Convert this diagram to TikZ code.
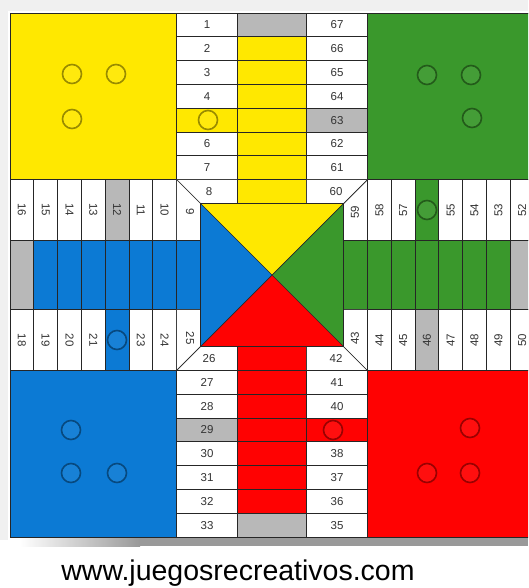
\documentclass[tikz,border=0pt]{standalone}
\usepackage{fontspec}
\setmainfont{Liberation Sans}

\definecolor{amarillo}{RGB}{255,232,0}
\definecolor{verde}{RGB}{58,152,44}
\definecolor{azul}{RGB}{12,122,212}
\definecolor{rojo}{RGB}{255,2,2}
\definecolor{seguro}{RGB}{184,184,184}

% board measures (pt, y runs downwards)
\def\cs{23.8}
\def\Xa{10}   \def\Xb{176.6} \def\Xc{237.4} \def\Xd{306.6} \def\Xe{367.4} \def\Xf{534.0}
\def\Ya{13}   \def\Yb{179.6} \def\Yc{240.4} \def\Yd{309.6} \def\Ye{370.4} \def\Yf{537.0}
\def\Ia{200.4} \def\Ib{343.6} \def\Ja{203.4} \def\Jb{346.6}
\def\Ox{272}  \def\Oy{275}

\begin{document}
\begin{tikzpicture}[x=1pt, y=-1pt,
    celda/.style={draw=black!85, line width=0.7pt},
    num/.style={font=\fontsize{11.5}{12}\selectfont, text=black!80, inner sep=0pt},
    ficha/.style={circle, minimum size=19pt, inner sep=0pt, fill=#1!95!white, draw=#1!60!black, line width=1.6pt},
    web/.style={font=\fontsize{28.5}{29}\selectfont, text=black, anchor=base}
]
    \useasboundingbox (0,0) rectangle (528,588);
    \clip (0,0) rectangle (528,588);

    % Background and shadow
    \fill[black!6] (0,0) rectangle (528,11);
    \fill[black!6] (0,0) rectangle (8,540);
    \shade[left color=white, right color=black!40] (20,537) rectangle (140,546);
    \fill[black!40] (140,537) rectangle (528,546);

    % Home squares
    \fill[amarillo] (\Xa,\Ya) rectangle (\Xb,\Yb);
    \fill[verde] (\Xe,\Ya) rectangle (\Xf,\Yb);
    \fill[azul] (\Xa,\Ye) rectangle (\Xb,\Yf);
    \fill[rojo] (\Xe,\Ye) rectangle (\Xf,\Yf);

    % Top arm (yellow)
    \foreach \i in {1,...,7} {
        \pgfmathsetmacro\ta{\Ya+(\i-1)*\cs}
        \pgfmathsetmacro\tb{\Ya+\i*\cs}
        \pgfmathsetmacro\tm{\Ya+(\i-0.5)*\cs}
        \pgfmathtruncatemacro\nr{68-\i}
        \ifnum\i=5
            \draw[celda, fill=amarillo] (\Xb,\ta) rectangle (\Xc,\tb);
            \draw[celda, fill=seguro] (\Xd,\ta) rectangle (\Xe,\tb);
        \else
            \draw[celda, fill=white] (\Xb,\ta) rectangle (\Xc,\tb);
            \draw[celda, fill=white] (\Xd,\ta) rectangle (\Xe,\tb);
            \node[num] (n\i) at ({(\Xb+\Xc)/2},\tm) {\i};
        \fi
        \node[num] (n\nr) at ({(\Xd+\Xe)/2},\tm) {\nr};
        \ifnum\i=1
            \draw[celda, fill=seguro] (\Xc,\ta) rectangle (\Xd,\tb);
        \else
            \draw[celda, fill=amarillo] (\Xc,\ta) rectangle (\Xd,\tb);
        \fi
    }

    % Bottom arm (red)
    \foreach \k in {1,...,7} {
        \pgfmathsetmacro\ta{\Yf-\k*\cs}
        \pgfmathsetmacro\tb{\Yf-(\k-1)*\cs}
        \pgfmathsetmacro\tm{\Yf-(\k-0.5)*\cs}
        \pgfmathtruncatemacro\nl{34-\k}
        \pgfmathtruncatemacro\nr{34+\k}
        \ifnum\k=5
            \draw[celda, fill=seguro] (\Xb,\ta) rectangle (\Xc,\tb);
            \draw[celda, fill=rojo] (\Xd,\ta) rectangle (\Xe,\tb);
        \else
            \draw[celda, fill=white] (\Xb,\ta) rectangle (\Xc,\tb);
            \draw[celda, fill=white] (\Xd,\ta) rectangle (\Xe,\tb);
            \node[num] (n\nr) at ({(\Xd+\Xe)/2},\tm) {\nr};
        \fi
        \node[num] (n\nl) at ({(\Xb+\Xc)/2},\tm) {\nl};
        \ifnum\k=1
            \draw[celda, fill=seguro] (\Xc,\ta) rectangle (\Xd,\tb);
        \else
            \draw[celda, fill=rojo] (\Xc,\ta) rectangle (\Xd,\tb);
        \fi
    }

    % Left arm (blue)
    \foreach \j in {1,...,7} {
        \pgfmathsetmacro\ta{\Xa+(\j-1)*\cs}
        \pgfmathsetmacro\tb{\Xa+\j*\cs}
        \pgfmathsetmacro\tm{\Xa+(\j-0.5)*\cs}
        \pgfmathtruncatemacro\nt{17-\j}
        \pgfmathtruncatemacro\nb{17+\j}
        \ifnum\j=5
            \draw[celda, fill=seguro] (\ta,\Yb) rectangle (\tb,\Yc);
            \draw[celda, fill=azul] (\ta,\Yd) rectangle (\tb,\Ye);
        \else
            \draw[celda, fill=white] (\ta,\Yb) rectangle (\tb,\Yc);
            \draw[celda, fill=white] (\ta,\Yd) rectangle (\tb,\Ye);
            \node[num, rotate=-90] (n\nb) at (\tm,{(\Yd+\Ye)/2}) {\nb};
        \fi
        \node[num, rotate=-90] (n\nt) at (\tm,{(\Yb+\Yc)/2}) {\nt};
        \ifnum\j=1
            \draw[celda, fill=seguro] (\ta,\Yc) rectangle (\tb,\Yd);
        \else
            \draw[celda, fill=azul] (\ta,\Yc) rectangle (\tb,\Yd);
        \fi
    }

    % Right arm (green)
    \foreach \j in {1,...,7} {
        \pgfmathsetmacro\ta{\Xf-\j*\cs}
        \pgfmathsetmacro\tb{\Xf-(\j-1)*\cs}
        \pgfmathsetmacro\tm{\Xf-(\j-0.5)*\cs}
        \pgfmathtruncatemacro\nt{51+\j}
        \pgfmathtruncatemacro\nb{51-\j}
        \ifnum\j=5
            \draw[celda, fill=verde] (\ta,\Yb) rectangle (\tb,\Yc);
            \draw[celda, fill=seguro] (\ta,\Yd) rectangle (\tb,\Ye);
        \else
            \draw[celda, fill=white] (\ta,\Yb) rectangle (\tb,\Yc);
            \draw[celda, fill=white] (\ta,\Yd) rectangle (\tb,\Ye);
            \node[num, rotate=90] (n\nt) at (\tm,{(\Yb+\Yc)/2}) {\nt};
        \fi
        \node[num, rotate=90] (n\nb) at (\tm,{(\Yd+\Ye)/2}) {\nb};
        \ifnum\j=1
            \draw[celda, fill=seguro] (\ta,\Yc) rectangle (\tb,\Yd);
        \else
            \draw[celda, fill=verde] (\ta,\Yc) rectangle (\tb,\Yd);
        \fi
    }

    % Centre triangles
    \fill[amarillo] (\Ia,\Ja) -- (\Ib,\Ja) -- (\Ox,\Oy) -- cycle;
    \fill[verde] (\Ib,\Ja) -- (\Ib,\Jb) -- (\Ox,\Oy) -- cycle;
    \fill[rojo] (\Ib,\Jb) -- (\Ia,\Jb) -- (\Ox,\Oy) -- cycle;
    \fill[azul] (\Ia,\Jb) -- (\Ia,\Ja) -- (\Ox,\Oy) -- cycle;

    % Lanes through the band
    \draw[celda, fill=amarillo] (\Xc,\Yb) rectangle (\Xd,\Ja);
    \draw[celda, fill=rojo] (\Xc,\Jb) rectangle (\Xd,\Ye);
    \draw[celda, fill=azul] (\Xb,\Yc) rectangle (\Ia,\Yd);
    \draw[celda, fill=verde] (\Ib,\Yc) rectangle (\Xe,\Yd);

    % Corner cells of the band
    \draw[celda, fill=white] (\Xb,\Yb) -- (\Xc,\Yb) -- (\Xc,\Ja) -- (\Ia,\Ja) -- cycle;
    \draw[celda, fill=white] (\Xb,\Yb) -- (\Ia,\Ja) -- (\Ia,\Yc) -- (\Xb,\Yc) -- cycle;
    \draw[celda, fill=white] (\Xb,\Ye) -- (\Ia,\Jb) -- (\Ia,\Yd) -- (\Xb,\Yd) -- cycle;
    \draw[celda, fill=white] (\Xb,\Ye) -- (\Xc,\Ye) -- (\Xc,\Jb) -- (\Ia,\Jb) -- cycle;
    \draw[celda, fill=white] (\Xe,\Ye) -- (\Xd,\Ye) -- (\Xd,\Jb) -- (\Ib,\Jb) -- cycle;
    \draw[celda, fill=white] (\Xe,\Ye) -- (\Ib,\Jb) -- (\Ib,\Yd) -- (\Xe,\Yd) -- cycle;
    \draw[celda, fill=white] (\Xe,\Yb) -- (\Ib,\Ja) -- (\Ib,\Yc) -- (\Xe,\Yc) -- cycle;
    \draw[celda, fill=white] (\Xe,\Yb) -- (\Xd,\Yb) -- (\Xd,\Ja) -- (\Ib,\Ja) -- cycle;
    \draw[celda] (\Ia,\Ja) rectangle (\Ib,\Jb);
    \draw[celda] (\Ia,\Ja) -- (\Ib,\Jb) (\Ib,\Ja) -- (\Ia,\Jb);

    \node[num] (n8) at (209,191.5) {8};
    \node[num] (n60) at (336,191.5) {60};
    \node[num, rotate=-90] (n9) at (190,212) {9};
    \node[num, rotate=-90] (n25) at (190,338) {25};
    \node[num] (n26) at (209,358.5) {26};
    \node[num] (n42) at (336,358.5) {42};
    \node[num, rotate=90] (n43) at (355,338) {43};
    \node[num, rotate=90] (n59) at (355,212) {59};

    % Board outline
    \draw[celda] (\Xa,\Ya) rectangle (\Xf,\Yf);

    % Tokens
    \node[ficha=amarillo] (fa1) at (72,74) {};
    \node[ficha=amarillo] (fa2) at (116,74) {};
    \node[ficha=amarillo] (fa3) at (72,119) {};
    \node[ficha=amarillo] (fa4) at (208,120) {};
    \node[ficha=verde] (fv1) at (427,75) {};
    \node[ficha=verde] (fv2) at (471,75) {};
    \node[ficha=verde] (fv3) at (472,118) {};
    \node[ficha=verde] (fv4) at (427,210) {};
    \node[ficha=azul] (fz1) at (71,430) {};
    \node[ficha=azul] (fz2) at (71,473) {};
    \node[ficha=azul] (fz3) at (117,473) {};
    \node[ficha=azul] (fz4) at (117,340) {};
    \node[ficha=rojo] (fr1) at (470,428) {};
    \node[ficha=rojo] (fr2) at (427,473) {};
    \node[ficha=rojo] (fr3) at (470,473) {};
    \node[ficha=rojo] (fr4) at (333,430) {};

    % Site address
    \node[web] (sitio) at (238,580.5) {www.juegosrecreativos.com};
\end{tikzpicture}
\end{document}
